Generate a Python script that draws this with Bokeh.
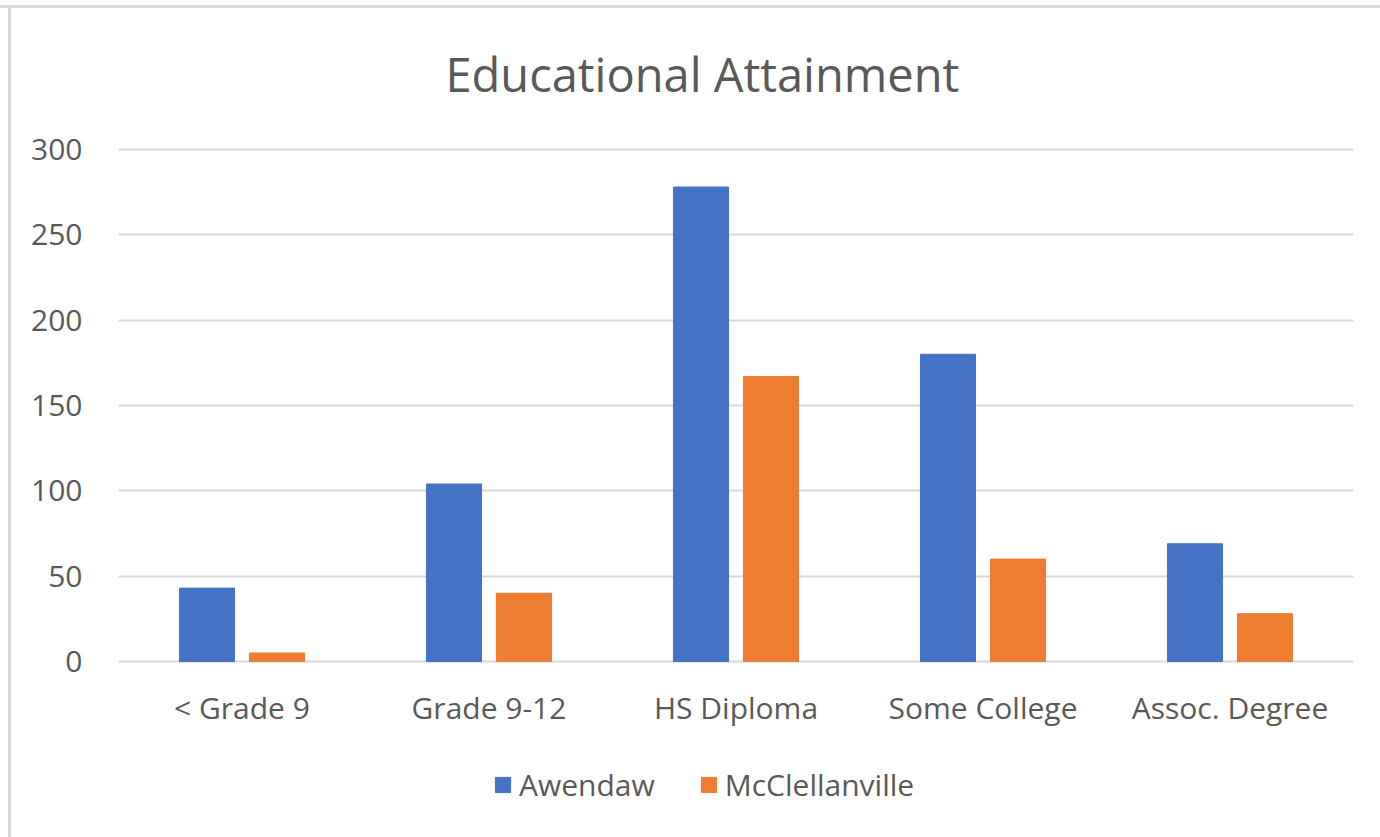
from bokeh.plotting import figure
from bokeh.models import ColumnDataSource, FactorRange, Range1d, Legend, LegendItem
from bokeh.transform import dodge
from bokeh.embed import file_html
from bokeh.resources import INLINE

categories = ["< Grade 9", "Grade 9-12", "HS Diploma", "Some College", "Assoc. Degree"]
awendaw = [43, 104, 278, 180, 69]
mcclellanville = [5, 40, 167, 60, 28]
series_names = ["Awendaw", "McClellanville"]
y_ticks = [0, 50, 100, 150, 200, 250, 300]

BLUE = "#4472C4"
ORANGE = "#ED7D31"
TEXT = "#595959"
GRID = "#D9D9D9"
FONT = "Open Sans"

src = ColumnDataSource(dict(cat=categories, aw=awendaw, mc=mcclellanville))

# the gray chart-area edges (top and left) are painted as a CSS background
# behind a transparent canvas, so they do not change the layout
edge = ("linear-gradient(#D9D9D9, #D9D9D9) 0px 5px / 100% 3px no-repeat, "
        "linear-gradient(#D9D9D9, #D9D9D9) 8px 5px / 3px 100% no-repeat")

# frame runs to the bottom of the canvas so the legend can sit inside it;
# the category axis is pinned at y = 0
p = figure(x_range=FactorRange(factors=categories, range_padding=0),
           y_range=Range1d(-103.1, 302.9),
           width=1380, height=837, output_backend="svg", toolbar_location=None,
           min_border_left=118, min_border_right=27, min_border_top=144,
           min_border_bottom=0,
           styles={"background": edge})
p.border_fill_color = None
p.background_fill_color = None

r1 = p.vbar(x=dodge("cat", -0.1417, range=p.x_range), top="aw", width=0.223, source=src,
            fill_color=BLUE, line_color=BLUE)
r2 = p.vbar(x=dodge("cat", 0.1417, range=p.x_range), top="mc", width=0.223, source=src,
            fill_color=ORANGE, line_color=ORANGE)

p.title.text = "Educational Attainment"
p.title.align = "left"
p.title.offset = 327
p.title.text_font = FONT
p.title.text_font_size = "47px"
p.title.text_font_style = "normal"
p.title.text_color = TEXT
p.title.standoff = 77

p.outline_line_color = None
p.xgrid.grid_line_color = None
p.ygrid.grid_line_color = GRID
p.ygrid.grid_line_width = 2
p.yaxis.ticker = y_ticks
p.xaxis.fixed_location = 0

for ax in (p.xaxis, p.yaxis):
    ax.axis_line_color = None
    ax.major_tick_line_color = None
    ax.minor_tick_line_color = None
    ax.major_label_text_font = FONT
    ax.major_label_text_font_size = "30px"
    ax.major_label_text_color = TEXT
p.yaxis.major_label_standoff = 30
p.xaxis.major_label_standoff = 19

legend = Legend(items=[LegendItem(label=series_names[0], renderers=[r1]),
                       LegendItem(label=series_names[1], renderers=[r2])],
                orientation="horizontal", location=(375, 32),
                glyph_width=19, glyph_height=19, label_standoff=7, spacing=44,
                padding=0, margin=0,
                label_text_font=FONT, label_text_font_size="30px", label_text_color=TEXT,
                border_line_color=None, background_fill_alpha=0)
p.add_layout(legend, "center")

open("out.html", "w").write(file_html(p, INLINE))
